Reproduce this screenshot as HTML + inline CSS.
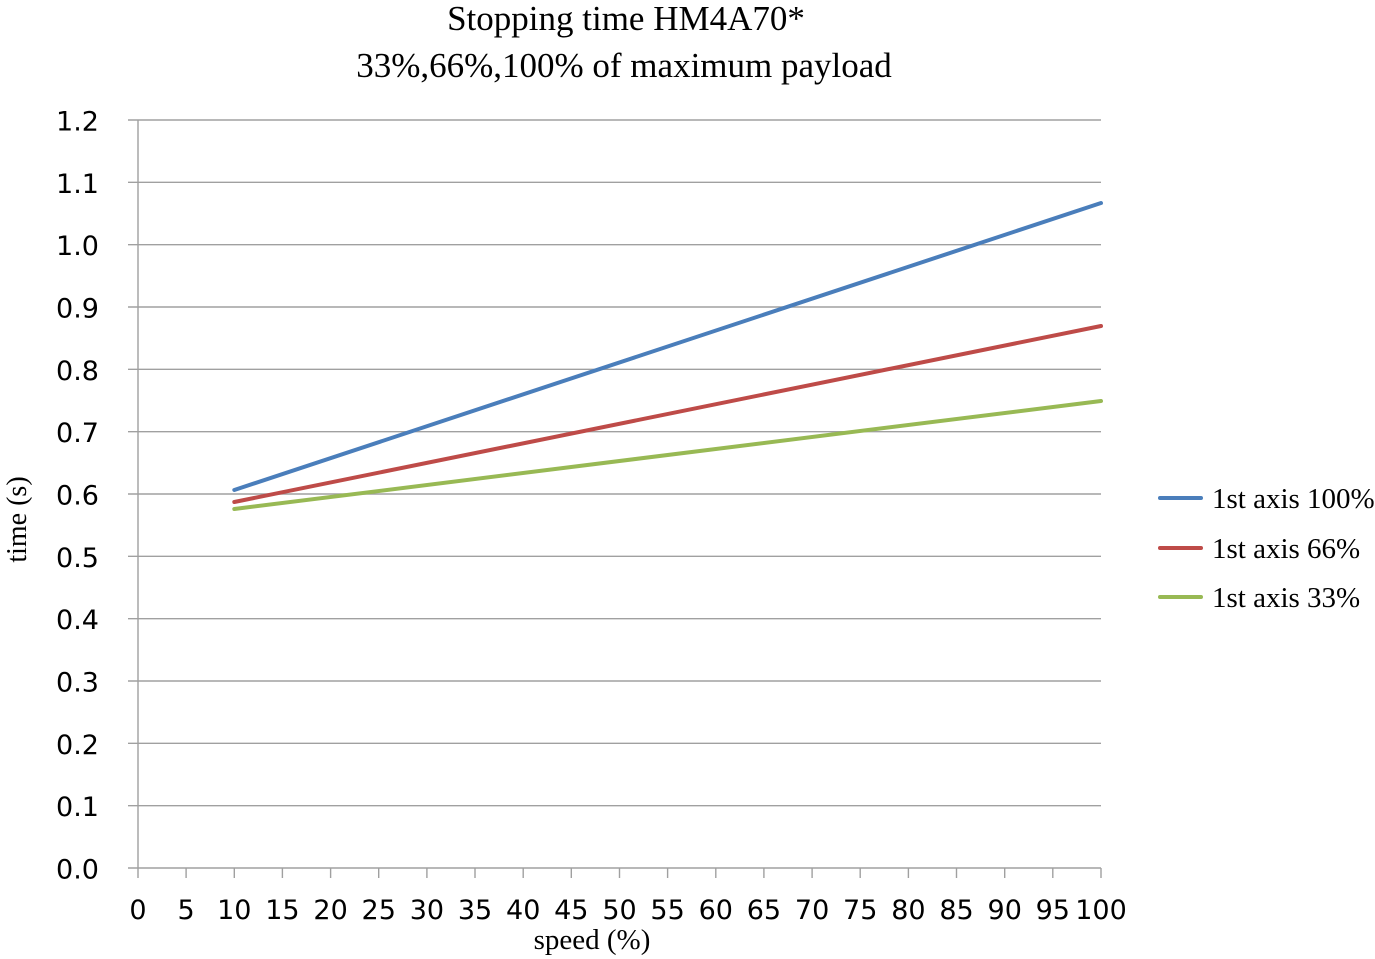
<!DOCTYPE html>
<html><head><meta charset="utf-8"><style>
html,body{margin:0;padding:0;background:#fff;}
svg{display:block;}
</style></head><body>
<svg width="1375" height="959" viewBox="0 0 1375 959" xmlns="http://www.w3.org/2000/svg">
<rect width="1375" height="959" fill="#fff"/>
<g font-family="Liberation Serif, serif" fill="#000">
<text x="626" y="30" font-size="35" text-anchor="middle">Stopping time HM4A70*</text>
<text x="624" y="77" font-size="35" text-anchor="middle">33%,66%,100% of maximum payload</text>
</g>
<g stroke="#a0a0a0" stroke-width="1.4" fill="none">
<line x1="128" y1="120" x2="1101" y2="120"/>
<line x1="128" y1="182.3" x2="1101" y2="182.3"/>
<line x1="128" y1="244.7" x2="1101" y2="244.7"/>
<line x1="128" y1="307" x2="1101" y2="307"/>
<line x1="128" y1="369.3" x2="1101" y2="369.3"/>
<line x1="128" y1="431.7" x2="1101" y2="431.7"/>
<line x1="128" y1="494" x2="1101" y2="494"/>
<line x1="128" y1="556.3" x2="1101" y2="556.3"/>
<line x1="128" y1="618.7" x2="1101" y2="618.7"/>
<line x1="128" y1="681" x2="1101" y2="681"/>
<line x1="128" y1="743.3" x2="1101" y2="743.3"/>
<line x1="128" y1="805.7" x2="1101" y2="805.7"/>
<line x1="128" y1="868" x2="1101" y2="868"/>
<line x1="138" y1="120" x2="138" y2="878"/>
<line x1="186.1" y1="868" x2="186.1" y2="878"/>
<line x1="234.3" y1="868" x2="234.3" y2="878"/>
<line x1="282.4" y1="868" x2="282.4" y2="878"/>
<line x1="330.6" y1="868" x2="330.6" y2="878"/>
<line x1="378.7" y1="868" x2="378.7" y2="878"/>
<line x1="426.9" y1="868" x2="426.9" y2="878"/>
<line x1="475" y1="868" x2="475" y2="878"/>
<line x1="523.2" y1="868" x2="523.2" y2="878"/>
<line x1="571.3" y1="868" x2="571.3" y2="878"/>
<line x1="619.5" y1="868" x2="619.5" y2="878"/>
<line x1="667.6" y1="868" x2="667.6" y2="878"/>
<line x1="715.8" y1="868" x2="715.8" y2="878"/>
<line x1="763.9" y1="868" x2="763.9" y2="878"/>
<line x1="812.1" y1="868" x2="812.1" y2="878"/>
<line x1="860.2" y1="868" x2="860.2" y2="878"/>
<line x1="908.4" y1="868" x2="908.4" y2="878"/>
<line x1="956.5" y1="868" x2="956.5" y2="878"/>
<line x1="1004.7" y1="868" x2="1004.7" y2="878"/>
<line x1="1052.8" y1="868" x2="1052.8" y2="878"/>
<line x1="1101" y1="868" x2="1101" y2="878"/>
</g>
<g font-family="DejaVu Sans, Verdana, sans-serif" font-size="27" fill="#000" text-anchor="end">
<text x="99" y="130.5">1.2</text>
<text x="99" y="192.8">1.1</text>
<text x="99" y="255.2">1.0</text>
<text x="99" y="317.5">0.9</text>
<text x="99" y="379.8">0.8</text>
<text x="99" y="442.2">0.7</text>
<text x="99" y="504.5">0.6</text>
<text x="99" y="566.8">0.5</text>
<text x="99" y="629.2">0.4</text>
<text x="99" y="691.5">0.3</text>
<text x="99" y="753.8">0.2</text>
<text x="99" y="816.2">0.1</text>
<text x="99" y="878.5">0.0</text>
</g>
<g font-family="DejaVu Sans, Verdana, sans-serif" font-size="27" fill="#000" text-anchor="middle">
<text x="138" y="919">0</text>
<text x="186.1" y="919">5</text>
<text x="234.3" y="919">10</text>
<text x="282.4" y="919">15</text>
<text x="330.6" y="919">20</text>
<text x="378.7" y="919">25</text>
<text x="426.9" y="919">30</text>
<text x="475" y="919">35</text>
<text x="523.2" y="919">40</text>
<text x="571.3" y="919">45</text>
<text x="619.5" y="919">50</text>
<text x="667.6" y="919">55</text>
<text x="715.8" y="919">60</text>
<text x="763.9" y="919">65</text>
<text x="812.1" y="919">70</text>
<text x="860.2" y="919">75</text>
<text x="908.4" y="919">80</text>
<text x="956.5" y="919">85</text>
<text x="1004.7" y="919">90</text>
<text x="1052.8" y="919">95</text>
<text x="1101" y="919">100</text>
</g>
<g font-family="Liberation Serif, serif" fill="#000">
<text x="592" y="949" font-size="29" text-anchor="middle">speed (%)</text>
<text transform="translate(26,519.5) rotate(-90)" font-size="28" text-anchor="middle">time (s)</text>
</g>
<g fill="none" stroke-width="4" stroke-linecap="round">
<line x1="234.3" y1="490" x2="1101" y2="203" stroke="#4a7ebb"/>
<line x1="234.3" y1="502" x2="1101" y2="326" stroke="#be4b48"/>
<line x1="234.3" y1="509" x2="1101" y2="401" stroke="#98b954"/>
</g>
<g stroke-width="4" stroke-linecap="round">
<line x1="1160" y1="498" x2="1201" y2="498" stroke="#4a7ebb"/>
<line x1="1160" y1="548" x2="1201" y2="548" stroke="#be4b48"/>
<line x1="1160" y1="597" x2="1201" y2="597" stroke="#98b954"/>
</g>
<g font-family="Liberation Serif, serif" font-size="29" fill="#000">
<text x="1212" y="508">1st axis 100%</text>
<text x="1212" y="558">1st axis 66%</text>
<text x="1212" y="607">1st axis 33%</text>
</g>
</svg>
</body></html>
